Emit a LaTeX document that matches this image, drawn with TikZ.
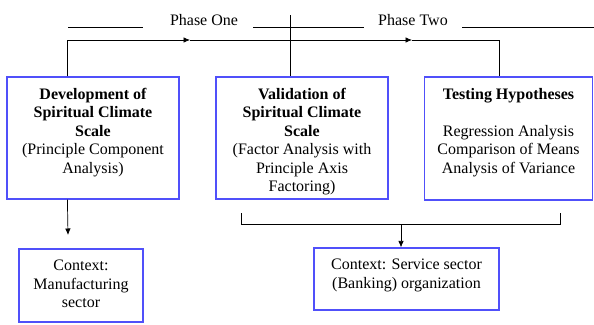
\documentclass[tikz,border=0pt]{standalone}
\usepackage{fontspec}
\setmainfont{Liberation Serif}
\usetikzlibrary{arrows.meta,calc,positioning}
\definecolor{boxblue}{RGB}{80,80,250}
\newcommand\boxcontent[3]{\parbox[c][#2][t]{#1}{\centering\vspace*{11pt}#3}}
\tikzset{
  stage/.style={draw=boxblue, line width=1.2pt, inner sep=0pt},
  link/.style={line width=0.7pt},
  tip/.style={-{Latex[length=6.5pt,width=5.5pt]}},
  phase/.style={anchor=base, inner sep=0pt}
}

\begin{document}
\begin{tikzpicture}[x=1pt,y=-1pt,font=\fontsize{16}{18.5}\selectfont]
\useasboundingbox (0,0) rectangle (594,324);
% phase headings
\node[phase] (phone) at (204,25) {Phase One};
\node[phase] (phtwo) at (413,25) {Phase Two};
\draw[link] (68,27) -- (143,27);
\draw[link] (253,27) -- (364,27);
\draw[link] (462,27) -- (594,27);
% stage boxes
\node[stage] (dev) at (93,138) {\boxcontent{172pt}{122pt}{\textbf{Development of\\Spiritual Climate\\Scale}\\(Principle Component\\Analysis)}};
\node[stage] (val) at (302,138) {\boxcontent{172pt}{122pt}{\textbf{Validation of\\Spiritual Climate\\Scale}\\(Factor Analysis with\\Principle Axis\\Factoring)}};
\node[stage] (test) at (508.5,138.5) {\boxcontent{168pt}{123pt}{\textbf{Testing Hypotheses}\\[18.5pt]Regression Analysis\\Comparison of Means\\Analysis of Variance}};
% context boxes
\node[stage] (manu) at (81,285.5) {\boxcontent{124pt}{73pt}{Context:\\Manufacturing\\sector}};
\node[stage] (serv) at (406.5,279) {\boxcontent{185pt}{62pt}{Context: Service sector\\(Banking) organization}};
% phase flow
\coordinate (start) at ($(dev.north west)+(61,0)$);
\coordinate (tipone) at (190,40);
\coordinate (tiptwo) at (412,40);
\coordinate (turn) at (499,40);
\draw[link,tip] (start) |- (tipone);
\draw[link,tip] (tipone) -- (tiptwo);
\draw[link] (tiptwo) -- (turn) -- (turn |- test.north);
\coordinate (divtop) at (290,15);
\draw[link] (divtop) -- (divtop |- val.north);
% contexts
\coordinate (downend) at (68,235);
\draw[link,tip] (start |- dev.south) -- (downend);
\coordinate (bl) at (241,213);
\coordinate (br) at (560,213);
\coordinate (bmid) at (401,224);
\draw[link] (bl) -- (bl |- bmid) -- (bmid -| br) -- (br);
\draw[link,tip] (bmid) -- (bmid |- serv.north);
\end{tikzpicture}
\end{document}
